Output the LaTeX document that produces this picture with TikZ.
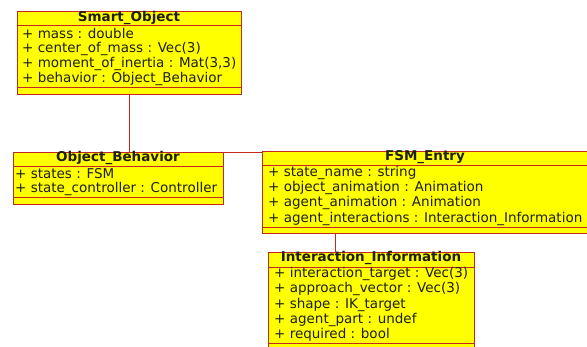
\documentclass[tikz,border=0pt]{standalone}
\usepackage{fontspec}
\setmainfont{DejaVu Sans}
\definecolor{umlline}{RGB}{195,40,30}
\definecolor{umlfill}{RGB}{255,255,0}
\definecolor{umltext}{RGB}{30,30,20}
\begin{document}
\begin{tikzpicture}[x=1pt,y=-1pt,
  classbox/.style={draw=umlline,fill=umlfill,line width=0.9pt},
  sep/.style={draw=umlline,line width=0.9pt},
  ttl/.style={font=\fontsize{13.5}{15}\selectfont\bfseries,text=umltext,inner sep=0pt,anchor=center},
  attr/.style={font=\fontsize{13.5}{15}\selectfont,text=umltext,inner sep=0pt,anchor=west},
  conn/.style={draw=umlline,line width=0.9pt}]
\useasboundingbox (0,0) rectangle (587,347);
\begin{scope}
\clip (0,0) rectangle (587,347);
% Smart_Object
\node[classbox,anchor=north west,minimum width=224pt,minimum height=83pt,inner sep=0pt] (so) at (17,11) {};
\draw[sep] (17,25) -- (241,25);
\draw[sep] (17,87) -- (241,87);
\node[ttl] (sot) at (129,18) {Smart\_Object};
\node[attr] (so1) at (22,33) {+ mass : double};
\node[attr] (so2) at (22,49) {+ center\_of\_mass : Vec(3)};
\node[attr] (so3) at (22,64) {+ moment\_of\_inertia : Mat(3,3)};
\node[attr] (so4) at (22,79) {+ behavior : Object\_Behavior};
% Object_Behavior
\node[classbox,anchor=north west,minimum width=210pt,minimum height=52pt,inner sep=0pt] (ob) at (13,152) {};
\draw[sep] (13,166) -- (223,166);
\draw[sep] (13,197) -- (223,197);
\node[ttl] (obt) at (118,158) {Object\_Behavior};
\node[attr] (ob1) at (15,174) {+ states : FSM};
\node[attr] (ob2) at (15,189) {+ state\_controller : Controller};
% FSM_Entry
\node[classbox,anchor=north west,minimum width=326pt,minimum height=82pt,inner sep=0pt] (fsm) at (262,151) {};
\draw[sep] (262,165) -- (588,165);
\draw[sep] (262,227) -- (588,227);
\node[ttl] (fsmt) at (425,157) {FSM\_Entry};
\node[attr] (f1) at (268,173) {+ state\_name : string};
\node[attr] (f2) at (268,188) {+ object\_animation : Animation};
\node[attr] (f3) at (268,203) {+ agent\_animation : Animation};
\node[attr] (f4) at (268,219) {+ agent\_interactions : Interaction\_Information};
% Interaction_Information
\node[classbox,anchor=north west,minimum width=206pt,minimum height=100pt,inner sep=0pt] (ii) at (268,252) {};
\draw[sep] (268,267) -- (474,267);
\draw[sep] (268,343) -- (474,343);
\node[ttl] (iit) at (371,258) {Interaction\_Information};
\node[attr] (i1) at (274,274) {+ interaction\_target : Vec(3)};
\node[attr] (i2) at (274,289) {+ approach\_vector : Vec(3)};
\node[attr] (i3) at (274,305) {+ shape : IK\_target};
\node[attr] (i4) at (274,320) {+ agent\_part : undef};
\node[attr] (i5) at (274,335) {+ required : bool};
\end{scope}
% connectors
\draw[conn] (so.south -| 129,0) -- (ob.north -| 129,0);
\draw[conn] (ob.north east) -- (fsm.north west |- ob.north east);
\draw[conn] (fsm.south -| 335,0) -- (ii.north -| 335,0);
\end{tikzpicture}
\end{document}
